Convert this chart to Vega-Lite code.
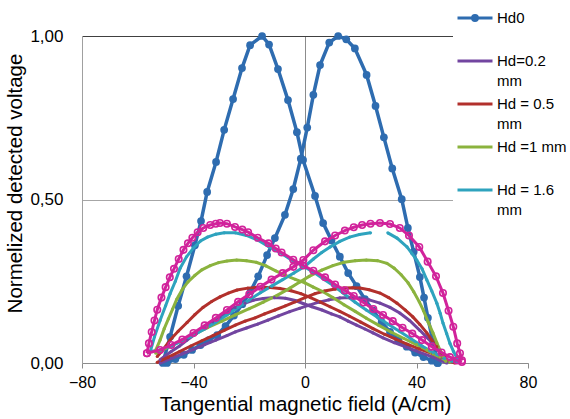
{
  "$schema": "https://vega.github.io/schema/vega-lite/v6.json",
  "width": 446,
  "height": 327,
  "autosize": {"type": "none"},
  "padding": {"left": 82, "top": 36, "right": 42, "bottom": 56},
  "background": "white",
  "config": {
    "view": {"stroke": null},
    "font": "Liberation Sans",
    "axis": {"labelFont": "Liberation Sans", "titleFont": "Liberation Sans"},
    "legend": {"labelFont": "Liberation Sans"}
  },
  "datasets": {
    "curves": [
      {"s":"Hd0","b":"A","x":-51,"y":0.0},{"s":"Hd0","b":"A","x":-48.4,"y":0.08},{"s":"Hd0","b":"A","x":-45.5,"y":0.175},{"s":"Hd0","b":"A","x":-42.5,"y":0.265},{"s":"Hd0","b":"A","x":-39.5,"y":0.36},{"s":"Hd0","b":"A","x":-37.3,"y":0.434},{"s":"Hd0","b":"A","x":-35.1,"y":0.523},{"s":"Hd0","b":"A","x":-31.9,"y":0.615},{"s":"Hd0","b":"A","x":-29.0,"y":0.713},{"s":"Hd0","b":"A","x":-25.8,"y":0.807},{"s":"Hd0","b":"A","x":-22.6,"y":0.902},{"s":"Hd0","b":"A","x":-19.7,"y":0.972},{"s":"Hd0","b":"A","x":-15.4,"y":1.0},{"s":"Hd0","b":"A","x":-12.9,"y":0.974},{"s":"Hd0","b":"A","x":-9.7,"y":0.899},{"s":"Hd0","b":"A","x":-6.1,"y":0.804},{"s":"Hd0","b":"A","x":-2.9,"y":0.706},{"s":"Hd0","b":"A","x":-0.7,"y":0.621},{"s":"Hd0","b":"A","x":3.6,"y":0.511},{"s":"Hd0","b":"A","x":6.5,"y":0.428},{"s":"Hd0","b":"A","x":9.5,"y":0.375},{"s":"Hd0","b":"A","x":12.5,"y":0.325},{"s":"Hd0","b":"A","x":15.5,"y":0.275},{"s":"Hd0","b":"A","x":18.5,"y":0.235},{"s":"Hd0","b":"A","x":21.5,"y":0.195},{"s":"Hd0","b":"A","x":24.5,"y":0.16},{"s":"Hd0","b":"A","x":27.5,"y":0.125},{"s":"Hd0","b":"A","x":30.5,"y":0.095},{"s":"Hd0","b":"A","x":33.5,"y":0.07},{"s":"Hd0","b":"A","x":36.5,"y":0.05},{"s":"Hd0","b":"A","x":39.5,"y":0.032},{"s":"Hd0","b":"A","x":42.5,"y":0.018},{"s":"Hd0","b":"A","x":45.5,"y":0.007},{"s":"Hd0","b":"A","x":47.5,"y":0.0},
      {"s":"Hd0","b":"B","x":-49.5,"y":0.0},{"s":"Hd0","b":"B","x":-46.5,"y":0.012},{"s":"Hd0","b":"B","x":-43.5,"y":0.025},{"s":"Hd0","b":"B","x":-40.5,"y":0.04},{"s":"Hd0","b":"B","x":-37.5,"y":0.055},{"s":"Hd0","b":"B","x":-34.5,"y":0.07},{"s":"Hd0","b":"B","x":-31.5,"y":0.085},{"s":"Hd0","b":"B","x":-28.5,"y":0.113},{"s":"Hd0","b":"B","x":-25.5,"y":0.145},{"s":"Hd0","b":"B","x":-22.5,"y":0.18},{"s":"Hd0","b":"B","x":-19.5,"y":0.22},{"s":"Hd0","b":"B","x":-16.8,"y":0.265},{"s":"Hd0","b":"B","x":-13.6,"y":0.33},{"s":"Hd0","b":"B","x":-10.8,"y":0.382},{"s":"Hd0","b":"B","x":-7.2,"y":0.453},{"s":"Hd0","b":"B","x":-4.2,"y":0.532},{"s":"Hd0","b":"B","x":-1.5,"y":0.625},{"s":"Hd0","b":"B","x":0.8,"y":0.72},{"s":"Hd0","b":"B","x":3.0,"y":0.82},{"s":"Hd0","b":"B","x":5.4,"y":0.911},{"s":"Hd0","b":"B","x":8.7,"y":0.98},{"s":"Hd0","b":"B","x":11.9,"y":1.0},{"s":"Hd0","b":"B","x":14.8,"y":0.99},{"s":"Hd0","b":"B","x":17.9,"y":0.962},{"s":"Hd0","b":"B","x":22.1,"y":0.881},{"s":"Hd0","b":"B","x":25.3,"y":0.786},{"s":"Hd0","b":"B","x":28.3,"y":0.69},{"s":"Hd0","b":"B","x":31.3,"y":0.595},{"s":"Hd0","b":"B","x":34.7,"y":0.501},{"s":"Hd0","b":"B","x":36.9,"y":0.413},{"s":"Hd0","b":"B","x":39.0,"y":0.34},{"s":"Hd0","b":"B","x":41.2,"y":0.263},{"s":"Hd0","b":"B","x":42.7,"y":0.2},{"s":"Hd0","b":"B","x":44.1,"y":0.138},{"s":"Hd0","b":"B","x":46.0,"y":0.06},{"s":"Hd0","b":"B","x":47.7,"y":0.0},

      {"s":"Hd=0.2 mm","b":"L","x":-52,"y":0.01},{"s":"Hd=0.2 mm","b":"L","x":-48,"y":0.035},{"s":"Hd=0.2 mm","b":"L","x":-45,"y":0.052},{"s":"Hd=0.2 mm","b":"L","x":-42.3,"y":0.07},{"s":"Hd=0.2 mm","b":"L","x":-39,"y":0.09},{"s":"Hd=0.2 mm","b":"L","x":-36,"y":0.108},{"s":"Hd=0.2 mm","b":"L","x":-33,"y":0.126},{"s":"Hd=0.2 mm","b":"L","x":-30.5,"y":0.141},{"s":"Hd=0.2 mm","b":"L","x":-27.5,"y":0.158},{"s":"Hd=0.2 mm","b":"L","x":-25,"y":0.17},{"s":"Hd=0.2 mm","b":"L","x":-21.5,"y":0.183},{"s":"Hd=0.2 mm","b":"L","x":-18.6,"y":0.192},{"s":"Hd=0.2 mm","b":"L","x":-15,"y":0.197},{"s":"Hd=0.2 mm","b":"L","x":-11,"y":0.2},{"s":"Hd=0.2 mm","b":"L","x":-7,"y":0.198},{"s":"Hd=0.2 mm","b":"L","x":-3.5,"y":0.191},{"s":"Hd=0.2 mm","b":"L","x":-0.7,"y":0.182},{"s":"Hd=0.2 mm","b":"L","x":2.5,"y":0.172},{"s":"Hd=0.2 mm","b":"L","x":6.1,"y":0.162},{"s":"Hd=0.2 mm","b":"L","x":9.5,"y":0.15},{"s":"Hd=0.2 mm","b":"L","x":12.5,"y":0.141},{"s":"Hd=0.2 mm","b":"L","x":15.5,"y":0.128},{"s":"Hd=0.2 mm","b":"L","x":18.5,"y":0.116},{"s":"Hd=0.2 mm","b":"L","x":21.5,"y":0.104},{"s":"Hd=0.2 mm","b":"L","x":24.4,"y":0.092},{"s":"Hd=0.2 mm","b":"L","x":28,"y":0.077},{"s":"Hd=0.2 mm","b":"L","x":32,"y":0.062},{"s":"Hd=0.2 mm","b":"L","x":36.6,"y":0.048},{"s":"Hd=0.2 mm","b":"L","x":41,"y":0.033},{"s":"Hd=0.2 mm","b":"L","x":45.9,"y":0.018},{"s":"Hd=0.2 mm","b":"L","x":48.5,"y":0.008},{"s":"Hd=0.2 mm","b":"L","x":50.9,"y":0.0},
      {"s":"Hd=0.2 mm","b":"R","x":-52,"y":0.0},{"s":"Hd=0.2 mm","b":"R","x":-48,"y":0.014},{"s":"Hd=0.2 mm","b":"R","x":-44,"y":0.028},{"s":"Hd=0.2 mm","b":"R","x":-40,"y":0.042},{"s":"Hd=0.2 mm","b":"R","x":-36,"y":0.056},{"s":"Hd=0.2 mm","b":"R","x":-32,"y":0.07},{"s":"Hd=0.2 mm","b":"R","x":-28,"y":0.084},{"s":"Hd=0.2 mm","b":"R","x":-25,"y":0.095},{"s":"Hd=0.2 mm","b":"R","x":-21,"y":0.107},{"s":"Hd=0.2 mm","b":"R","x":-17,"y":0.119},{"s":"Hd=0.2 mm","b":"R","x":-13.3,"y":0.131},{"s":"Hd=0.2 mm","b":"R","x":-9.5,"y":0.144},{"s":"Hd=0.2 mm","b":"R","x":-5.5,"y":0.157},{"s":"Hd=0.2 mm","b":"R","x":-2,"y":0.167},{"s":"Hd=0.2 mm","b":"R","x":1.5,"y":0.177},{"s":"Hd=0.2 mm","b":"R","x":5,"y":0.186},{"s":"Hd=0.2 mm","b":"R","x":8.5,"y":0.193},{"s":"Hd=0.2 mm","b":"R","x":12.5,"y":0.199},{"s":"Hd=0.2 mm","b":"R","x":16,"y":0.2},{"s":"Hd=0.2 mm","b":"R","x":19.7,"y":0.199},{"s":"Hd=0.2 mm","b":"R","x":23,"y":0.193},{"s":"Hd=0.2 mm","b":"R","x":26.9,"y":0.183},{"s":"Hd=0.2 mm","b":"R","x":30.5,"y":0.17},{"s":"Hd=0.2 mm","b":"R","x":34,"y":0.153},{"s":"Hd=0.2 mm","b":"R","x":37.5,"y":0.13},{"s":"Hd=0.2 mm","b":"R","x":41.2,"y":0.1},{"s":"Hd=0.2 mm","b":"R","x":43.5,"y":0.08},{"s":"Hd=0.2 mm","b":"R","x":45.9,"y":0.06},{"s":"Hd=0.2 mm","b":"R","x":47.7,"y":0.04},{"s":"Hd=0.2 mm","b":"R","x":49.5,"y":0.018},{"s":"Hd=0.2 mm","b":"R","x":50.9,"y":0.005},

      {"s":"Hd = 0.5 mm","b":"L","x":-53,"y":0.02},{"s":"Hd = 0.5 mm","b":"L","x":-51,"y":0.04},{"s":"Hd = 0.5 mm","b":"L","x":-48.4,"y":0.07},{"s":"Hd = 0.5 mm","b":"L","x":-45.5,"y":0.097},{"s":"Hd = 0.5 mm","b":"L","x":-42.3,"y":0.124},{"s":"Hd = 0.5 mm","b":"L","x":-39.5,"y":0.148},{"s":"Hd = 0.5 mm","b":"L","x":-36.6,"y":0.17},{"s":"Hd = 0.5 mm","b":"L","x":-33.5,"y":0.188},{"s":"Hd = 0.5 mm","b":"L","x":-30.5,"y":0.202},{"s":"Hd = 0.5 mm","b":"L","x":-27.5,"y":0.214},{"s":"Hd = 0.5 mm","b":"L","x":-24.4,"y":0.223},{"s":"Hd = 0.5 mm","b":"L","x":-20.5,"y":0.229},{"s":"Hd = 0.5 mm","b":"L","x":-16.5,"y":0.232},{"s":"Hd = 0.5 mm","b":"L","x":-12.5,"y":0.231},{"s":"Hd = 0.5 mm","b":"L","x":-9,"y":0.228},{"s":"Hd = 0.5 mm","b":"L","x":-5,"y":0.221},{"s":"Hd = 0.5 mm","b":"L","x":-1.5,"y":0.212},{"s":"Hd = 0.5 mm","b":"L","x":2,"y":0.2},{"s":"Hd = 0.5 mm","b":"L","x":5.5,"y":0.186},{"s":"Hd = 0.5 mm","b":"L","x":9,"y":0.172},{"s":"Hd = 0.5 mm","b":"L","x":12.5,"y":0.158},{"s":"Hd = 0.5 mm","b":"L","x":16,"y":0.143},{"s":"Hd = 0.5 mm","b":"L","x":20,"y":0.125},{"s":"Hd = 0.5 mm","b":"L","x":24.4,"y":0.105},{"s":"Hd = 0.5 mm","b":"L","x":28.5,"y":0.088},{"s":"Hd = 0.5 mm","b":"L","x":32.5,"y":0.073},{"s":"Hd = 0.5 mm","b":"L","x":36.6,"y":0.058},{"s":"Hd = 0.5 mm","b":"L","x":41,"y":0.043},{"s":"Hd = 0.5 mm","b":"L","x":45.9,"y":0.028},{"s":"Hd = 0.5 mm","b":"L","x":48.5,"y":0.017},{"s":"Hd = 0.5 mm","b":"L","x":50.9,"y":0.008},{"s":"Hd = 0.5 mm","b":"L","x":53.8,"y":0.0},
      {"s":"Hd = 0.5 mm","b":"R","x":-53,"y":0.002},{"s":"Hd = 0.5 mm","b":"R","x":-49,"y":0.018},{"s":"Hd = 0.5 mm","b":"R","x":-45,"y":0.035},{"s":"Hd = 0.5 mm","b":"R","x":-41,"y":0.052},{"s":"Hd = 0.5 mm","b":"R","x":-37,"y":0.068},{"s":"Hd = 0.5 mm","b":"R","x":-33,"y":0.084},{"s":"Hd = 0.5 mm","b":"R","x":-29,"y":0.1},{"s":"Hd = 0.5 mm","b":"R","x":-25,"y":0.116},{"s":"Hd = 0.5 mm","b":"R","x":-21.5,"y":0.128},{"s":"Hd = 0.5 mm","b":"R","x":-17.9,"y":0.138},{"s":"Hd = 0.5 mm","b":"R","x":-14.5,"y":0.15},{"s":"Hd = 0.5 mm","b":"R","x":-10.8,"y":0.162},{"s":"Hd = 0.5 mm","b":"R","x":-7,"y":0.175},{"s":"Hd = 0.5 mm","b":"R","x":-3.6,"y":0.187},{"s":"Hd = 0.5 mm","b":"R","x":0,"y":0.2},{"s":"Hd = 0.5 mm","b":"R","x":3.6,"y":0.212},{"s":"Hd = 0.5 mm","b":"R","x":7,"y":0.22},{"s":"Hd = 0.5 mm","b":"R","x":10.8,"y":0.226},{"s":"Hd = 0.5 mm","b":"R","x":14,"y":0.229},{"s":"Hd = 0.5 mm","b":"R","x":17,"y":0.23},{"s":"Hd = 0.5 mm","b":"R","x":19.7,"y":0.229},{"s":"Hd = 0.5 mm","b":"R","x":23,"y":0.224},{"s":"Hd = 0.5 mm","b":"R","x":26.9,"y":0.214},{"s":"Hd = 0.5 mm","b":"R","x":30,"y":0.2},{"s":"Hd = 0.5 mm","b":"R","x":33,"y":0.183},{"s":"Hd = 0.5 mm","b":"R","x":36,"y":0.162},{"s":"Hd = 0.5 mm","b":"R","x":38.7,"y":0.141},{"s":"Hd = 0.5 mm","b":"R","x":41.2,"y":0.118},{"s":"Hd = 0.5 mm","b":"R","x":43.7,"y":0.092},{"s":"Hd = 0.5 mm","b":"R","x":45.5,"y":0.07},{"s":"Hd = 0.5 mm","b":"R","x":47.3,"y":0.05},{"s":"Hd = 0.5 mm","b":"R","x":49,"y":0.03},{"s":"Hd = 0.5 mm","b":"R","x":50.9,"y":0.01},{"s":"Hd = 0.5 mm","b":"R","x":52,"y":0.003},

      {"s":"Hd =1 mm","b":"L","x":-53.5,"y":0.04},{"s":"Hd =1 mm","b":"L","x":-52,"y":0.07},{"s":"Hd =1 mm","b":"L","x":-50.5,"y":0.105},{"s":"Hd =1 mm","b":"L","x":-49,"y":0.135},{"s":"Hd =1 mm","b":"L","x":-47.5,"y":0.165},{"s":"Hd =1 mm","b":"L","x":-46,"y":0.195},{"s":"Hd =1 mm","b":"L","x":-44,"y":0.225},{"s":"Hd =1 mm","b":"L","x":-42,"y":0.248},{"s":"Hd =1 mm","b":"L","x":-39.5,"y":0.268},{"s":"Hd =1 mm","b":"L","x":-37,"y":0.285},{"s":"Hd =1 mm","b":"L","x":-34,"y":0.298},{"s":"Hd =1 mm","b":"L","x":-31,"y":0.307},{"s":"Hd =1 mm","b":"L","x":-28,"y":0.312},{"s":"Hd =1 mm","b":"L","x":-24.5,"y":0.315},{"s":"Hd =1 mm","b":"L","x":-21,"y":0.313},{"s":"Hd =1 mm","b":"L","x":-17.5,"y":0.308},{"s":"Hd =1 mm","b":"L","x":-14,"y":0.297},{"s":"Hd =1 mm","b":"L","x":-10.5,"y":0.282},{"s":"Hd =1 mm","b":"L","x":-7,"y":0.268},{"s":"Hd =1 mm","b":"L","x":-3.5,"y":0.256},{"s":"Hd =1 mm","b":"L","x":0,"y":0.245},{"s":"Hd =1 mm","b":"L","x":3,"y":0.232},{"s":"Hd =1 mm","b":"L","x":6.5,"y":0.218},{"s":"Hd =1 mm","b":"L","x":10,"y":0.2},{"s":"Hd =1 mm","b":"L","x":14,"y":0.178},{"s":"Hd =1 mm","b":"L","x":18,"y":0.158},{"s":"Hd =1 mm","b":"L","x":22,"y":0.137},{"s":"Hd =1 mm","b":"L","x":26.5,"y":0.115},{"s":"Hd =1 mm","b":"L","x":31,"y":0.094},{"s":"Hd =1 mm","b":"L","x":35.5,"y":0.075},{"s":"Hd =1 mm","b":"L","x":40,"y":0.056},{"s":"Hd =1 mm","b":"L","x":43.7,"y":0.04},{"s":"Hd =1 mm","b":"L","x":46,"y":0.028},{"s":"Hd =1 mm","b":"L","x":48.4,"y":0.018},{"s":"Hd =1 mm","b":"L","x":50.5,"y":0.008},{"s":"Hd =1 mm","b":"L","x":52,"y":0.003},
      {"s":"Hd =1 mm","b":"R","x":-53.5,"y":0.03},{"s":"Hd =1 mm","b":"R","x":-50,"y":0.045},{"s":"Hd =1 mm","b":"R","x":-45,"y":0.065},{"s":"Hd =1 mm","b":"R","x":-40,"y":0.087},{"s":"Hd =1 mm","b":"R","x":-35,"y":0.108},{"s":"Hd =1 mm","b":"R","x":-30,"y":0.127},{"s":"Hd =1 mm","b":"R","x":-25,"y":0.147},{"s":"Hd =1 mm","b":"R","x":-20,"y":0.166},{"s":"Hd =1 mm","b":"R","x":-15,"y":0.186},{"s":"Hd =1 mm","b":"R","x":-10,"y":0.207},{"s":"Hd =1 mm","b":"R","x":-5.4,"y":0.229},{"s":"Hd =1 mm","b":"R","x":-2,"y":0.247},{"s":"Hd =1 mm","b":"R","x":1.5,"y":0.265},{"s":"Hd =1 mm","b":"R","x":6,"y":0.284},{"s":"Hd =1 mm","b":"R","x":10,"y":0.298},{"s":"Hd =1 mm","b":"R","x":14,"y":0.308},{"s":"Hd =1 mm","b":"R","x":18,"y":0.313},{"s":"Hd =1 mm","b":"R","x":22,"y":0.315},{"s":"Hd =1 mm","b":"R","x":26,"y":0.313},{"s":"Hd =1 mm","b":"R","x":29.4,"y":0.305},{"s":"Hd =1 mm","b":"R","x":32,"y":0.29},{"s":"Hd =1 mm","b":"R","x":34.5,"y":0.27},{"s":"Hd =1 mm","b":"R","x":37,"y":0.245},{"s":"Hd =1 mm","b":"R","x":39,"y":0.218},{"s":"Hd =1 mm","b":"R","x":41,"y":0.187},{"s":"Hd =1 mm","b":"R","x":42.5,"y":0.16},{"s":"Hd =1 mm","b":"R","x":44.2,"y":0.125},{"s":"Hd =1 mm","b":"R","x":45.9,"y":0.092},{"s":"Hd =1 mm","b":"R","x":47.3,"y":0.062},{"s":"Hd =1 mm","b":"R","x":48.4,"y":0.04},{"s":"Hd =1 mm","b":"R","x":49.5,"y":0.02},{"s":"Hd =1 mm","b":"R","x":50.5,"y":0.005},

      {"s":"Hd = 1.6 mm","b":"L","x":-55.5,"y":0.035},{"s":"Hd = 1.6 mm","b":"L","x":-54,"y":0.08},{"s":"Hd = 1.6 mm","b":"L","x":-52,"y":0.13},{"s":"Hd = 1.6 mm","b":"L","x":-50,"y":0.175},{"s":"Hd = 1.6 mm","b":"L","x":-48.4,"y":0.212},{"s":"Hd = 1.6 mm","b":"L","x":-46.5,"y":0.25},{"s":"Hd = 1.6 mm","b":"L","x":-44.8,"y":0.29},{"s":"Hd = 1.6 mm","b":"L","x":-42.5,"y":0.325},{"s":"Hd = 1.6 mm","b":"L","x":-40,"y":0.352},{"s":"Hd = 1.6 mm","b":"L","x":-37.5,"y":0.373},{"s":"Hd = 1.6 mm","b":"L","x":-35,"y":0.385},{"s":"Hd = 1.6 mm","b":"L","x":-32,"y":0.394},{"s":"Hd = 1.6 mm","b":"L","x":-29,"y":0.398},{"s":"Hd = 1.6 mm","b":"L","x":-25,"y":0.398},{"s":"Hd = 1.6 mm","b":"L","x":-21,"y":0.39},{"s":"Hd = 1.6 mm","b":"L","x":-17,"y":0.376},{"s":"Hd = 1.6 mm","b":"L","x":-13,"y":0.356},{"s":"Hd = 1.6 mm","b":"L","x":-9,"y":0.338},{"s":"Hd = 1.6 mm","b":"L","x":-5,"y":0.316},{"s":"Hd = 1.6 mm","b":"L","x":-1,"y":0.298},{"s":"Hd = 1.6 mm","b":"L","x":3,"y":0.278},{"s":"Hd = 1.6 mm","b":"L","x":6.5,"y":0.258},{"s":"Hd = 1.6 mm","b":"L","x":10,"y":0.238},{"s":"Hd = 1.6 mm","b":"L","x":13.5,"y":0.215},{"s":"Hd = 1.6 mm","b":"L","x":18,"y":0.186},{"s":"Hd = 1.6 mm","b":"L","x":22,"y":0.162},{"s":"Hd = 1.6 mm","b":"L","x":26,"y":0.14},{"s":"Hd = 1.6 mm","b":"L","x":30,"y":0.118},{"s":"Hd = 1.6 mm","b":"L","x":34,"y":0.096},{"s":"Hd = 1.6 mm","b":"L","x":38,"y":0.074},{"s":"Hd = 1.6 mm","b":"L","x":42,"y":0.052},{"s":"Hd = 1.6 mm","b":"L","x":46,"y":0.032},{"s":"Hd = 1.6 mm","b":"L","x":50,"y":0.014},{"s":"Hd = 1.6 mm","b":"L","x":52.5,"y":0.006},{"s":"Hd = 1.6 mm","b":"L","x":54.5,"y":0.002},
      {"s":"Hd = 1.6 mm","b":"R1","x":-55.5,"y":0.035},{"s":"Hd = 1.6 mm","b":"R1","x":-52,"y":0.04},{"s":"Hd = 1.6 mm","b":"R1","x":-48,"y":0.052},{"s":"Hd = 1.6 mm","b":"R1","x":-44,"y":0.068},{"s":"Hd = 1.6 mm","b":"R1","x":-40,"y":0.085},{"s":"Hd = 1.6 mm","b":"R1","x":-36,"y":0.104},{"s":"Hd = 1.6 mm","b":"R1","x":-32,"y":0.125},{"s":"Hd = 1.6 mm","b":"R1","x":-28,"y":0.147},{"s":"Hd = 1.6 mm","b":"R1","x":-24,"y":0.17},{"s":"Hd = 1.6 mm","b":"R1","x":-20,"y":0.193},{"s":"Hd = 1.6 mm","b":"R1","x":-16,"y":0.215},{"s":"Hd = 1.6 mm","b":"R1","x":-12,"y":0.235},{"s":"Hd = 1.6 mm","b":"R1","x":-8,"y":0.255},{"s":"Hd = 1.6 mm","b":"R1","x":-4,"y":0.275},{"s":"Hd = 1.6 mm","b":"R1","x":0,"y":0.296},{"s":"Hd = 1.6 mm","b":"R1","x":3,"y":0.318},{"s":"Hd = 1.6 mm","b":"R1","x":6,"y":0.338},{"s":"Hd = 1.6 mm","b":"R1","x":9,"y":0.355},{"s":"Hd = 1.6 mm","b":"R1","x":12.5,"y":0.372},{"s":"Hd = 1.6 mm","b":"R1","x":16,"y":0.385},{"s":"Hd = 1.6 mm","b":"R1","x":19.5,"y":0.393},{"s":"Hd = 1.6 mm","b":"R1","x":23.5,"y":0.398},
      {"s":"Hd = 1.6 mm","b":"R2","x":29.7,"y":0.398},{"s":"Hd = 1.6 mm","b":"R2","x":33,"y":0.382},{"s":"Hd = 1.6 mm","b":"R2","x":36.6,"y":0.355},{"s":"Hd = 1.6 mm","b":"R2","x":40.1,"y":0.315},{"s":"Hd = 1.6 mm","b":"R2","x":42,"y":0.288},{"s":"Hd = 1.6 mm","b":"R2","x":43.7,"y":0.254},{"s":"Hd = 1.6 mm","b":"R2","x":45.5,"y":0.22},{"s":"Hd = 1.6 mm","b":"R2","x":47.3,"y":0.183},{"s":"Hd = 1.6 mm","b":"R2","x":48.5,"y":0.152},{"s":"Hd = 1.6 mm","b":"R2","x":49.5,"y":0.122},{"s":"Hd = 1.6 mm","b":"R2","x":50.8,"y":0.09},{"s":"Hd = 1.6 mm","b":"R2","x":52,"y":0.06},{"s":"Hd = 1.6 mm","b":"R2","x":53.3,"y":0.035},{"s":"Hd = 1.6 mm","b":"R2","x":54.5,"y":0.015},{"s":"Hd = 1.6 mm","b":"R2","x":55.3,"y":0.005},

      {"s":"Series 6","b":"L","x":-56.7,"y":0.03},{"s":"Series 6","b":"L","x":-56,"y":0.06},{"s":"Series 6","b":"L","x":-55,"y":0.095},{"s":"Series 6","b":"L","x":-54,"y":0.13},{"s":"Series 6","b":"L","x":-53,"y":0.163},{"s":"Series 6","b":"L","x":-51.5,"y":0.2},{"s":"Series 6","b":"L","x":-50,"y":0.232},{"s":"Series 6","b":"L","x":-48.5,"y":0.262},{"s":"Series 6","b":"L","x":-47,"y":0.288},{"s":"Series 6","b":"L","x":-45.3,"y":0.318},{"s":"Series 6","b":"L","x":-43.6,"y":0.346},{"s":"Series 6","b":"L","x":-42,"y":0.366},{"s":"Series 6","b":"L","x":-40.4,"y":0.383},{"s":"Series 6","b":"L","x":-38.5,"y":0.4},{"s":"Series 6","b":"L","x":-36.5,"y":0.413},{"s":"Series 6","b":"L","x":-34,"y":0.422},{"s":"Series 6","b":"L","x":-32,"y":0.426},{"s":"Series 6","b":"L","x":-30.5,"y":0.428},{"s":"Series 6","b":"L","x":-28,"y":0.426},{"s":"Series 6","b":"L","x":-25.1,"y":0.416},{"s":"Series 6","b":"L","x":-22.5,"y":0.408},{"s":"Series 6","b":"L","x":-20.4,"y":0.4},{"s":"Series 6","b":"L","x":-17,"y":0.383},{"s":"Series 6","b":"L","x":-13.1,"y":0.366},{"s":"Series 6","b":"L","x":-10.5,"y":0.35},{"s":"Series 6","b":"L","x":-8.4,"y":0.338},{"s":"Series 6","b":"L","x":-4.2,"y":0.316},{"s":"Series 6","b":"L","x":-0.6,"y":0.298},{"s":"Series 6","b":"L","x":3,"y":0.282},{"s":"Series 6","b":"L","x":7.2,"y":0.262},{"s":"Series 6","b":"L","x":10.8,"y":0.24},{"s":"Series 6","b":"L","x":14.3,"y":0.222},{"s":"Series 6","b":"L","x":17.5,"y":0.205},{"s":"Series 6","b":"L","x":21,"y":0.185},{"s":"Series 6","b":"L","x":24.5,"y":0.165},{"s":"Series 6","b":"L","x":28,"y":0.147},{"s":"Series 6","b":"L","x":31.5,"y":0.128},{"s":"Series 6","b":"L","x":35,"y":0.108},{"s":"Series 6","b":"L","x":38.5,"y":0.09},{"s":"Series 6","b":"L","x":42,"y":0.07},{"s":"Series 6","b":"L","x":45.5,"y":0.05},{"s":"Series 6","b":"L","x":49,"y":0.032},{"s":"Series 6","b":"L","x":52,"y":0.018},{"s":"Series 6","b":"L","x":54.5,"y":0.008},{"s":"Series 6","b":"L","x":56.3,"y":0.003},
      {"s":"Series 6","b":"R","x":-56.7,"y":0.03},{"s":"Series 6","b":"R","x":-52,"y":0.04},{"s":"Series 6","b":"R","x":-48,"y":0.055},{"s":"Series 6","b":"R","x":-44,"y":0.072},{"s":"Series 6","b":"R","x":-40,"y":0.092},{"s":"Series 6","b":"R","x":-36,"y":0.115},{"s":"Series 6","b":"R","x":-32,"y":0.138},{"s":"Series 6","b":"R","x":-28,"y":0.162},{"s":"Series 6","b":"R","x":-24,"y":0.187},{"s":"Series 6","b":"R","x":-20,"y":0.21},{"s":"Series 6","b":"R","x":-16,"y":0.233},{"s":"Series 6","b":"R","x":-12,"y":0.255},{"s":"Series 6","b":"R","x":-8,"y":0.275},{"s":"Series 6","b":"R","x":-4.2,"y":0.294},{"s":"Series 6","b":"R","x":-0.6,"y":0.315},{"s":"Series 6","b":"R","x":3,"y":0.345},{"s":"Series 6","b":"R","x":7.2,"y":0.372},{"s":"Series 6","b":"R","x":10.8,"y":0.39},{"s":"Series 6","b":"R","x":14.3,"y":0.405},{"s":"Series 6","b":"R","x":17.5,"y":0.415},{"s":"Series 6","b":"R","x":20.5,"y":0.422},{"s":"Series 6","b":"R","x":23.5,"y":0.426},{"s":"Series 6","b":"R","x":26.9,"y":0.428},{"s":"Series 6","b":"R","x":30.5,"y":0.425},{"s":"Series 6","b":"R","x":34,"y":0.413},{"s":"Series 6","b":"R","x":37.3,"y":0.39},{"s":"Series 6","b":"R","x":41,"y":0.355},{"s":"Series 6","b":"R","x":44,"y":0.31},{"s":"Series 6","b":"R","x":47,"y":0.265},{"s":"Series 6","b":"R","x":49.5,"y":0.214},{"s":"Series 6","b":"R","x":51.5,"y":0.16},{"s":"Series 6","b":"R","x":53.2,"y":0.111},{"s":"Series 6","b":"R","x":54.6,"y":0.06},{"s":"Series 6","b":"R","x":55.6,"y":0.03},{"s":"Series 6","b":"R","x":56.3,"y":0.008}
    ]
  },
  "data": {"name": "curves"},
  "encoding": {
    "x": {
      "field": "x", "type": "quantitative",
      "scale": {"domain": [-80, 80], "nice": false, "zero": false},
      "axis": {
        "values": [-80, -40, 0, 40, 80],
        "title": "Tangential magnetic field (A/cm)",
        "grid": true,
        "gridColor": "#8c8c8c",
        "gridOpacity": {"condition": {"test": "datum.value === 0", "value": 1}, "value": 0},
        "domainColor": "#8c8c8c",
        "tickColor": "#8c8c8c",
        "tickSize": 5,
        "labelFontSize": 16,
        "labelColor": "#000000",
        "labelPadding": 6,
        "labelFlush": false,
        "titleFontSize": 20.5,
        "titleFontWeight": "normal",
        "titleColor": "#000000",
        "titleBaseline": "alphabetic",
        "titleY": 47
      }
    },
    "y": {
      "field": "y", "type": "quantitative",
      "scale": {"domain": [0, 1], "nice": false},
      "axis": {
        "values": [0, 0.5, 1],
        "labelExpr": "replace(format(datum.value, '.2f'), '.', ',')",
        "grid": true,
        "gridColor": {"condition": {"test": "datum.value === 1", "value": "#404040"}, "value": "#a6a6a6"},
        "ticks": false,
        "tickSize": 0,
        "domainColor": "#a0a0a0",
        "labelFontSize": 17,
        "labelColor": "#000000",
        "labelPadding": 19,
        "title": "Normelized detected voltage",
        "titleFontSize": 20.5,
        "titleFontWeight": "normal",
        "titleColor": "#000000",
        "titleBaseline": "alphabetic",
        "titleX": -61,
        "titleY": 147
      }
    },
    "color": {
      "field": "s", "type": "nominal",
      "scale": {
        "domain": ["Hd0", "Hd=0.2 mm", "Hd = 0.5 mm", "Hd =1 mm", "Hd = 1.6 mm", "Series 6"],
        "range": ["#2E6CB0", "#7245A0", "#B2302C", "#8BB33E", "#2EA3BE", "#D1239B"]
      },
      "legend": {
        "title": null,
        "orient": "none",
        "legendX": 371,
        "legendY": -31,
        "values": ["Hd0", "Hd=0.2 mm", "Hd = 0.5 mm", "Hd =1 mm", "Hd = 1.6 mm"],
        "labelExpr": "datum.label == 'Hd0' || datum.label == 'Hd =1 mm' ? datum.label : [replace(datum.label, ' mm', ''), 'mm']",
        "labelFontSize": 15,
        "labelColor": "#000000",
        "labelLimit": 300,
        "labelBaseline": "middle",
        "labelOffset": 3,
        "symbolType": "M-1,0L1,0",
        "symbolSize": 1225,
        "symbolStrokeWidth": 3,
        "clipHeight": 43,
        "rowPadding": 0,
        "padding": 3,
        "fillColor": "#ffffff",
        "encode": {
          "labels": {"update": {"lineHeight": {"value": 20}, "y": {"value": 10}}},
          "symbols": {"update": {"y": {"value": 10}, "shape": {"signal": "datum.value === 'Hd0' ? 'M-1,0L1,0M0.14,0A0.14,0.14 0 1 1 -0.14,0A0.14,0.14 0 1 1 0.14,0' : 'M-1,0L1,0'"}}}
        }
      }
    },
    "detail": {"field": "b", "type": "nominal"}
  },
  "layer": [
    {
      "transform": [{"filter": "datum.s === 'Hd0'"}],
      "mark": {"type": "line", "strokeWidth": 3.5, "point": {"filled": true, "size": 60}}
    },
    {
      "transform": [{"filter": "datum.s !== 'Hd0' && datum.s !== 'Series 6'"}],
      "mark": {"type": "line", "strokeWidth": 3, "point": {"filled": true, "size": 10}}
    },
    {
      "transform": [{"filter": "datum.s === 'Series 6'"}],
      "mark": {"type": "line", "strokeWidth": 3, "point": {"filled": false, "size": 42, "strokeWidth": 1.6}}
    }
  ]
}
